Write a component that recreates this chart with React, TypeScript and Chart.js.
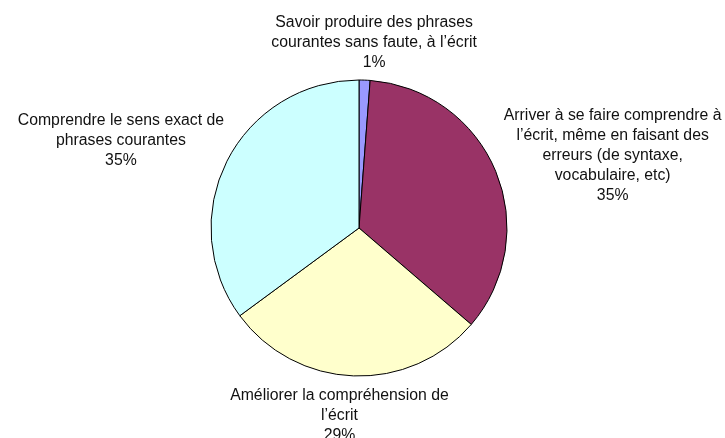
import React, { useEffect, useRef } from "react";
import { Chart, registerables } from "chart.js";

Chart.register(...registerables);

const categories: string[][] = [
  ["Savoir produire des phrases", "courantes sans faute, à l’écrit"],
  ["Arriver à se faire comprendre à", "l’écrit, même en faisant des", "erreurs (de syntaxe,", "vocabulaire, etc)"],
  ["Améliorer la compréhension de", "l’écrit"],
  ["Comprendre le sens exact de", "phrases courantes"],
];
const values: number[] = [1.2, 35.1, 28.6, 35.1];
const colors: string[] = ["#9999FF", "#993366", "#FFFFCC", "#CCFFFF"];

const FONT = "15.8px 'Liberation Sans', Arial, sans-serif";
const LINE_H = 20;
const GAP_X = 17;
const GAP_Y = 9;
const ANGLE_SHIFT = (1.5 * Math.PI) / 180;
const NUDGE_X = -2;
const NUDGE_Y = 1.5;

const outsideLabels = {
  id: "outsideLabels",
  afterDraw(chart: any) {
    const ctx = chart.ctx;
    const meta = chart.getDatasetMeta(0);
    const data = chart.data.datasets[0].data as number[];
    const total = data.reduce((a, b) => a + b, 0);
    ctx.save();
    ctx.font = FONT;
    ctx.fillStyle = "#111";
    ctx.textAlign = "center";
    ctx.textBaseline = "middle";
    meta.data.forEach((arc: any, i: number) => {
      const { x, y, startAngle, endAngle, outerRadius } = arc.getProps(
        ["x", "y", "startAngle", "endAngle", "outerRadius"],
        true
      );
      const a = (startAngle + endAngle) / 2 + ANGLE_SHIFT;
      const px = x + (outerRadius + GAP_X) * Math.cos(a);
      const py = y + (outerRadius + GAP_Y) * Math.sin(a);
      const lines = [...categories[i], Math.round((data[i] / total) * 100) + "%"];
      const w = Math.max(...lines.map((l) => ctx.measureText(l).width));
      const h = lines.length * LINE_H;
      const cx = px + (w / 2) * Math.cos(a) + NUDGE_X;
      const cy = py + (h / 2) * Math.sin(a) + NUDGE_Y;
      lines.forEach((l, k) => {
        ctx.fillText(l, cx, cy + (k - (lines.length - 1) / 2) * LINE_H);
      });
    });
    ctx.restore();
  },
};

export default function App() {
  const ref = useRef<HTMLCanvasElement | null>(null);
  useEffect(() => {
    document.body.style.margin = "0";
    const chart = new Chart(ref.current!, {
      type: "pie",
      data: {
        labels: categories.map((c) => c.join(" ")),
        datasets: [
          {
            data: values,
            backgroundColor: colors,
            borderColor: "#000",
            borderWidth: 1,
          },
        ],
      },
      options: {
        responsive: false,
        animation: false,
        layout: { padding: { top: 79.5, bottom: 61.5, left: 0, right: 7 } },
        plugins: { legend: { display: false }, tooltip: { enabled: false } },
      },
      plugins: [outsideLabels],
    });
    return () => chart.destroy();
  }, []);
  return (
    <div style={{ width: 725, height: 438, background: "#fff" }}>
      <canvas ref={ref} width={725} height={438} style={{ display: "block" }} />
    </div>
  );
}
